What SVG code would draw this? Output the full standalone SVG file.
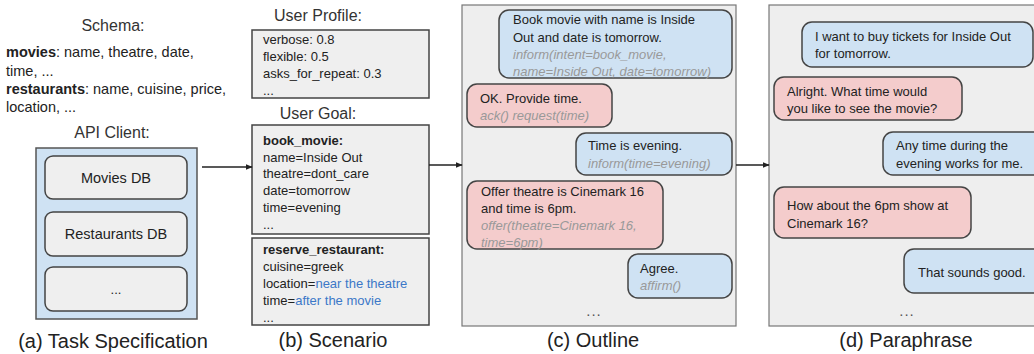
<svg xmlns="http://www.w3.org/2000/svg" width="1034" height="354" viewBox="0 0 1034 354">
<defs>
<marker id="ah" viewBox="0 0 10 10" refX="9" refY="5" markerWidth="7" markerHeight="7" orient="auto" markerUnits="userSpaceOnUse">
<path d="M0,1 L10,5 L0,9 z" fill="#222"/>
</marker>
<style>
text{font-family:"Liberation Sans",Arial,sans-serif;fill:#222;}
.t{font-size:13px;}
.s{font-size:14.5px;}
.h{font-size:16px;text-anchor:middle;fill:#333;}
.cap{font-size:20px;text-anchor:middle;fill:#222;}
.b{font-weight:bold;}
.i{font-style:italic;fill:#999;}
.bl{fill:#3c78c8;}
.dots{font-size:15px;text-anchor:middle;fill:#555;letter-spacing:1px;}
.panel{fill:#eeeeee;stroke:#777;stroke-width:1.2;}
.box{fill:#efefef;stroke:#444;stroke-width:1.5;}
.db{fill:#efefef;stroke:#444;stroke-width:1.5;}
.blue{fill:#cfe2f3;stroke:#444;stroke-width:1.5;}
.pink{fill:#f4cccc;stroke:#444;stroke-width:1.5;}
.api{fill:#cfe2f3;stroke:#555;stroke-width:1.5;}
.conn{stroke:#222;stroke-width:1.3;fill:none;marker-end:url(#ah);}
</style>
</defs>
<rect width="1034" height="354" fill="#ffffff"/>

<g id="task-spec">
<text class="h" x="113" y="31">Schema:</text>
<text class="s" x="6" y="57"><tspan class="b">movies</tspan>: name, theatre, date,</text>
<text class="s" x="6" y="76">time, ...</text>
<text class="s" x="6" y="94"><tspan class="b">restaurants</tspan>: name, cuisine, price,</text>
<text class="s" x="6" y="112">location, ...</text>
<text class="h" x="112" y="138">API Client:</text>
<rect class="api" x="36" y="148" width="161" height="171"/>
<g id="movies-db"><rect class="db" x="45" y="156" width="142" height="43" rx="8"/><text class="s" x="116" y="183" text-anchor="middle">Movies DB</text></g>
<g id="restaurants-db"><rect class="db" x="45" y="212" width="142" height="44" rx="8"/><text class="s" x="116" y="239" text-anchor="middle">Restaurants DB</text></g>
<g id="more-db"><rect class="db" x="45" y="267" width="142" height="44" rx="8"/><text class="t" x="116" y="294" text-anchor="middle" fill="#777">...</text></g>
<text class="cap" x="113" y="348">(a) Task Specification</text>
</g>

<g id="scenario">
<text class="h" x="318" y="21">User Profile:</text>
<g id="user-profile">
<rect class="box" x="252" y="30" width="177" height="68"/>
<text class="t" x="263" y="44">verbose: 0.8</text>
<text class="t" x="263" y="61">flexible: 0.5</text>
<text class="t" x="263" y="78">asks_for_repeat: 0.3</text>
<text class="t" x="263" y="95" fill="#777">...</text>
</g>
<text class="h" x="318" y="119">User Goal:</text>
<g id="goal-movie">
<rect class="box" x="252" y="125" width="177" height="109"/>
<text class="t b" x="263" y="145">book_movie:</text>
<text class="t" x="263" y="162">name=Inside Out</text>
<text class="t" x="263" y="178">theatre=dont_care</text>
<text class="t" x="263" y="195">date=tomorrow</text>
<text class="t" x="263" y="212">time=evening</text>
<text class="t" x="263" y="229" fill="#777">...</text>
</g>
<g id="goal-restaurant">
<rect class="box" x="252" y="238" width="177" height="87"/>
<text class="t b" x="263" y="254">reserve_restaurant:</text>
<text class="t" x="263" y="271">cuisine=greek</text>
<text class="t" x="263" y="288">location=<tspan class="bl">near the theatre</tspan></text>
<text class="t" x="263" y="305">time=<tspan class="bl">after the movie</tspan></text>
<text class="t" x="263" y="322" fill="#777">...</text>
</g>
<text class="cap" x="333" y="347">(b) Scenario</text>
</g>

<g id="outline">
<rect class="panel" x="462" y="5" width="274" height="321"/>
<g id="o1"><rect class="blue" x="499" y="10" width="233" height="68" rx="10"/>
<text class="t" x="513" y="24">Book movie with name is Inside</text>
<text class="t" x="513" y="42">Out and date is tomorrow.</text>
<text class="t i" x="513" y="59">inform(intent=book_movie,</text>
<text class="t i" x="513" y="76">name=Inside Out, date=tomorrow)</text></g>
<g id="o2"><rect class="pink" x="467" y="84" width="145" height="43" rx="10"/>
<text class="t" x="480" y="103">OK. Provide time.</text>
<text class="t i" x="480" y="120">ack() request(time)</text></g>
<g id="o3"><rect class="blue" x="576" y="133" width="156" height="42" rx="10"/>
<text class="t" x="588" y="150">Time is evening.</text>
<text class="t i" x="588" y="168">inform(time=evening)</text></g>
<g id="o4"><rect class="pink" x="467" y="181" width="196" height="68" rx="10"/>
<text class="t" x="481" y="196">Offer theatre is Cinemark 16</text>
<text class="t" x="481" y="213">and time is 6pm.</text>
<text class="t i" x="481" y="230">offer(theatre=Cinemark 16,</text>
<text class="t i" x="481" y="247">time=6pm)</text></g>
<g id="o5"><rect class="blue" x="628" y="254" width="104" height="44" rx="10"/>
<text class="t" x="640" y="273">Agree.</text>
<text class="t i" x="640" y="290">affirm()</text></g>
<text class="dots" x="594" y="316">...</text>
<text class="cap" x="593" y="347">(c) Outline</text>
</g>

<g id="paraphrase">
<rect class="panel" x="769" y="5" width="275" height="321"/>
<g id="p1"><rect class="blue" x="802" y="22" width="231" height="45" rx="10"/>
<text class="t" x="815" y="41">I want to buy tickets for Inside Out</text>
<text class="t" x="815" y="58">for tomorrow.</text></g>
<g id="p2"><rect class="pink" x="774" y="77" width="188" height="43" rx="10"/>
<text class="t" x="787" y="96">Alright. What time would</text>
<text class="t" x="787" y="113">you like to see the movie?</text></g>
<g id="p3"><rect class="blue" x="883" y="132" width="170" height="43" rx="10"/>
<text class="t" x="896" y="150">Any time during the</text>
<text class="t" x="896" y="168">evening works for me.</text></g>
<g id="p4"><rect class="pink" x="774" y="187" width="197" height="51" rx="10"/>
<text class="t" x="787" y="210">How about the 6pm show at</text>
<text class="t" x="787" y="228">Cinemark 16?</text></g>
<g id="p5"><rect class="blue" x="904" y="249" width="150" height="44" rx="10"/>
<text class="t" x="918" y="277">That sounds good.</text></g>
<text class="dots" x="907" y="316">...</text>
<text class="cap" x="906" y="347">(d) Paraphrase</text>
</g>

<g id="connectors">
<line class="conn" x1="202" y1="167" x2="252" y2="167"/>
<line class="conn" x1="429" y1="165" x2="462" y2="165"/>
<line class="conn" x1="736" y1="165" x2="769" y2="165"/>
</g>
</svg>
